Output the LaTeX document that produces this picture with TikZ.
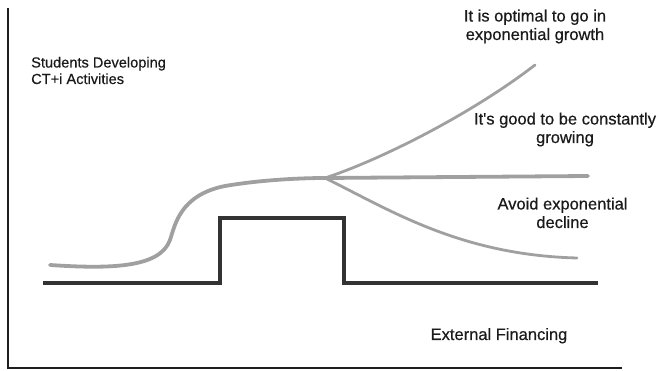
\documentclass[tikz,border=0pt]{standalone}
\usepackage{fontspec}
\setmainfont{Liberation Sans}
\newfontfamily\semibfont{Liberation Sans}[FakeBold=0.5]
\definecolor{axiscol}{HTML}{1E1E1E}
\definecolor{stepcol}{HTML}{333333}
\definecolor{curvecol}{HTML}{A0A0A0}
\definecolor{textcol}{HTML}{1A1A1A}
\tikzset{
  axisline/.style={draw=axiscol, line width=2.8pt},
  finline/.style={draw=stepcol, line width=3.8pt, line join=miter},
  mainpath/.style={draw=curvecol, line width=3.8pt, line cap=round},
  branchpath/.style={draw=curvecol, line width=2.8pt, line cap=round},
  lbl/.style={text=textcol, font=\semibfont\fontsize{16.5}{18.5}\selectfont, align=center, inner sep=0pt},
  smalllbl/.style={text=textcol, font=\semibfont\fontsize{14.6}{16.5}\selectfont, align=left, inner sep=0pt}
}
\begin{document}
\begin{tikzpicture}[x=1pt,y=-1pt]
\useasboundingbox (0,0) rectangle (659,371);
% axes
\coordinate (top) at (8,8);
\coordinate (origin) at (8,368);
\coordinate (xend) at (622,368);
\draw[axisline] (top) -- (origin) -- (xend);
% external financing step
\coordinate (f0) at (43,283);
\coordinate (f1) at (220,283);
\coordinate (f2) at (220,218);
\coordinate (f3) at (344,218);
\coordinate (f4) at (344,283);
\coordinate (f5) at (598,283);
\draw[finline] (f0) -- (f1) -- (f2) -- (f3) -- (f4) -- (f5);
% main curve
\coordinate (c0) at (50,265);
\coordinate (c1) at (170,240);
\coordinate (c2) at (225,186);
\coordinate (split) at (325,178);
\draw[mainpath] (c0) .. controls (110,269) and (160,268) .. (c1)
  .. controls (175,225) and (180,195) .. (c2)
  .. controls (260,180) and (300,178) .. (split);
% branches
\coordinate (up) at (535,65);
\coordinate (mid) at (588,176);
\coordinate (low) at (577,258);
\draw[branchpath] (split) .. controls (380,160) and (470,115) .. (up);
\draw[mainpath] (split) -- (mid);
\draw[branchpath] (split) .. controls (390,210) and (460,255) .. (low);
% labels
\node[smalllbl, anchor=base west] (students) at (31,84) {Students Developing\\CT+i Activities};
\node[lbl, anchor=base] (optimal) at (535,40) {It is optimal to go in\\exponential growth};
\node[lbl, anchor=base] (good) at (565,143) {It's good to be constantly\\growing};
\node[lbl, anchor=base] (avoid) at (562.5,228) {Avoid exponential\\decline};
\node[lbl, anchor=base] (financing) at (499,340) {External Financing};
\end{tikzpicture}
\end{document}
